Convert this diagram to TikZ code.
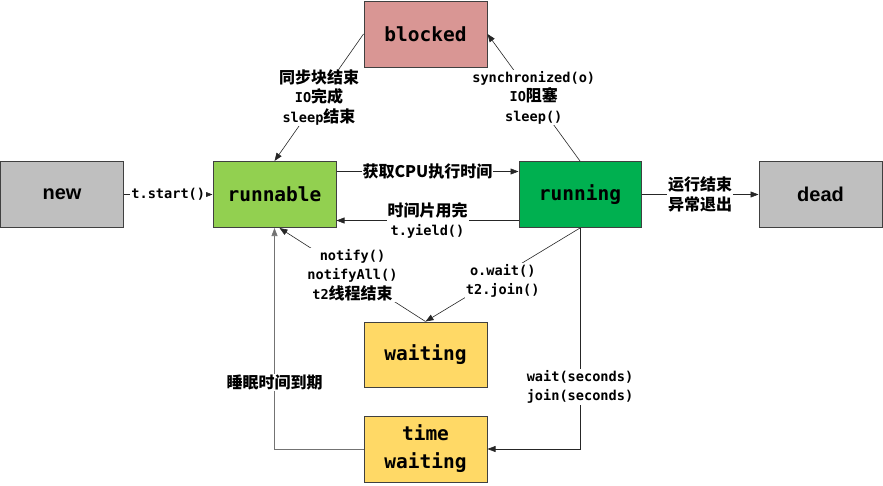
\documentclass[tikz,border=0pt]{standalone}
\usepackage{fontspec}
\usetikzlibrary{arrows.meta}
\newfontfamily\cjkfont{Noto Sans CJK SC}
\newfontfamily\monofnt{DejaVu Sans Mono}
\newfontfamily\boxsans{Liberation Sans}
\newcommand\zhtext[1]{{\cjkfont\bfseries\fontsize{16}{19.5}\selectfont #1}}
\definecolor{cblocked}{HTML}{D99694}
\definecolor{cgray}{HTML}{BFBFBF}
\definecolor{crunnable}{HTML}{92D050}
\definecolor{crunning}{HTML}{00B050}
\definecolor{cwait}{HTML}{FFD966}
\definecolor{cborder}{HTML}{404040}
\begin{document}
\begin{tikzpicture}[x=1pt,y=-1pt,
  state/.style={draw=cborder, line width=1pt, minimum width=123pt, minimum height=66pt, inner sep=0pt, align=center,
    font=\monofnt\bfseries\fontsize{19.5}{28}\selectfont},
  sansstate/.style={state, font=\boxsans\bfseries\fontsize{20}{24}\selectfont},
  lbl/.style={fill=white, inner sep=1pt, align=center, font=\monofnt\bfseries\fontsize{13.6}{19.5}\selectfont},
  conn/.style={draw=black!85, line width=0.6pt, -{Triangle[length=8pt,width=6pt]}},
]
\useasboundingbox (0,0) rectangle (883,485);
\node[sansstate, fill=cgray] (new) at (62,194.5) {new};
\node[state, fill=crunnable] (runnable) at (274.5,194.5) {runnable};
\node[state, fill=crunning, minimum width=122pt] (running) at (580,194.5) {running};
\node[sansstate, fill=cgray] (dead) at (820.5,194.5) {dead};
\node[state, fill=cblocked] (blocked) at (425.5,34) {blocked};
\node[state, fill=cwait, minimum height=65pt] (waiting) at (425.5,354.5) {waiting};
\node[state, fill=cwait] (timewait) at (425.5,449) {time\\waiting};

\draw[conn] (new.east) -- (runnable.west) node[lbl, midway] {t.start()};
\draw[conn] ([yshift=23pt]runnable.east) -- ([yshift=23pt]running.west)
  node[lbl, midway] {\zhtext{获取CPU执行时间}};
\draw[conn] ([yshift=-26pt]running.west) -- ([yshift=-26pt]runnable.east)
  node[lbl, midway] {\zhtext{时间片用完}\\t.yield()};
\draw[conn] (running.east) -- (dead.west)
  node[lbl, midway] {\zhtext{运行结束}\\\zhtext{异常退出}};
\draw[conn] (running.north) -- (blocked.east)
  node[lbl, midway] {synchronized(o)\\IO\zhtext{阻塞}\\sleep()};
\draw[conn] (blocked.west) -- (runnable.north)
  node[lbl, midway] {\zhtext{同步块结束}\\IO\zhtext{完成}\\sleep\zhtext{结束}};
\draw[conn] (running.south) -- (waiting.north)
  node[lbl, midway, yshift=-6pt] {o.wait()\\t2.join()};
\draw[conn] (waiting.north) -- ([xshift=5pt]runnable.south)
  node[lbl, midway] {notify()\\notifyAll()\\t2\zhtext{线程结束}};
\draw[conn] (running.south) |- (timewait.east)
  node[lbl, pos=0.36] {wait(seconds)\\join(seconds)};
\draw[conn, draw=black!55] (timewait.west) -| (runnable.south)
  node[lbl, pos=0.65] {\zhtext{睡眠时间到期}};
\end{tikzpicture}
\end{document}
